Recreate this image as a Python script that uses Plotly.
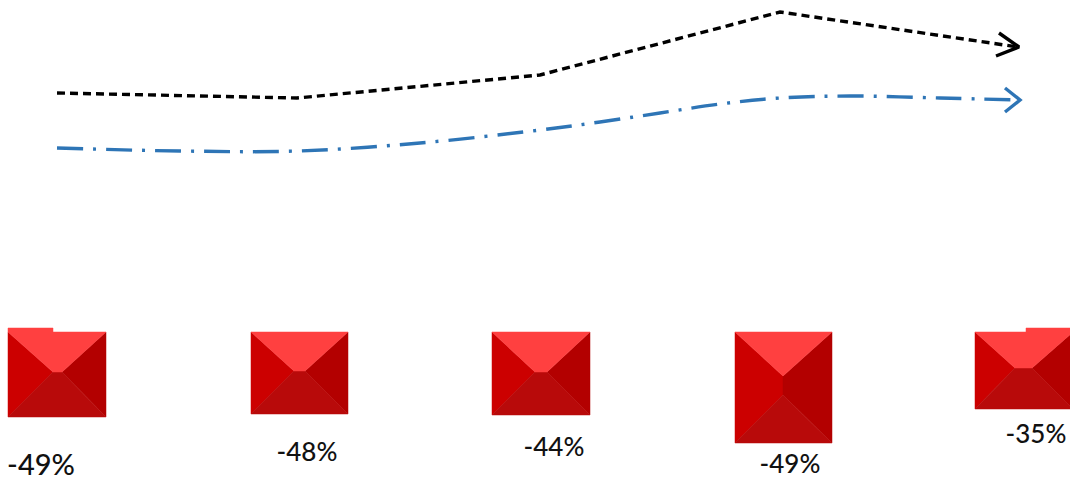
import plotly.graph_objects as go

# Trend lines
black_x = [57, 297, 540, 780, 1018]
black_y = [93, 98, 75, 12, 47]
blue_x = [57, 180, 297, 420, 540, 600, 660, 720, 780, 850, 940, 1018]
blue_y = [148, 151, 151, 143, 130, 122, 113, 104, 98, 96, 98, 100]

# Pyramid blocks
labels = ["-49%", "-48%", "-44%", "-49%", "-35%"]
box_left = [8, 251, 492, 735, 975]
box_right = [106, 348, 590, 832, 1073]
box_top = [332, 332, 332, 332, 332]
box_bottom = [417, 414, 415, 443, 409]
apex_left = [53, 294, 535, 783, 1015]
apex_right = [62, 305, 547, 783, 1032]
apex_top = [372, 371, 372, 376, 368]
apex_bottom = [372, 371, 372, 395, 368]
notch_left = [8, None, None, None, 1026]
notch_right = [53, None, None, None, 1073]
notch_top = [328, None, None, None, 328]

label_x = [41, 307, 554, 790, 1036]
label_y = [468, 454, 449, 466, 436]
label_size = [29, 26, 26, 26, 26]

TOP, LEFT, RIGHT, BOTTOM = "#FF4040", "#CC0000", "#B30000", "#B80A0A"

fig = go.Figure()


def face(xs, ys, color):
    fig.add_trace(go.Scatter(x=xs + xs[:1], y=ys + ys[:1], mode="lines", fill="toself",
                             fillcolor=color, line=dict(color=color, width=0.5),
                             hoverinfo="skip", showlegend=False))


for i in range(len(labels)):
    l, r, t, b = box_left[i], box_right[i], box_top[i], box_bottom[i]
    al, ar, at, ab = apex_left[i], apex_right[i], apex_top[i], apex_bottom[i]
    face([l, al, al, l], [t, at, ab, b], LEFT)
    face([r, ar, ar, r], [t, at, ab, b], RIGHT)
    face([l, al, ar, r], [b, ab, ab, b], BOTTOM)
    if notch_left[i] is None:
        face([l, al, ar, r], [t, at, at, t], TOP)
    else:
        nl, nr, nt = notch_left[i], notch_right[i], notch_top[i]
        if nl == l:
            face([l, nr, nr, r, ar, al, l], [nt, nt, t, t, at, at, t], TOP)
        else:
            face([l, nl, nl, nr, r, ar, al], [t, t, nt, nt, t, at, at], TOP)

fig.add_trace(go.Scatter(x=black_x, y=black_y, mode="lines", hoverinfo="skip", showlegend=False,
                         line=dict(color="#000000", width=3.4, dash="8px,5px")))
fig.add_trace(go.Scatter(x=[black_x[-1] - 19, black_x[-1] + 1, black_x[-1] - 22],
                         y=[black_y[-1] - 14, black_y[-1], black_y[-1] + 9], mode="lines",
                         hoverinfo="skip", showlegend=False,
                         line=dict(color="#000000", width=3.4)))
fig.add_trace(go.Scatter(x=blue_x, y=blue_y, mode="lines", hoverinfo="skip", showlegend=False,
                         line=dict(color="#2E75B6", width=3.4, shape="spline", smoothing=1,
                                   dash="26px,10px,3px,10px")))
fig.add_trace(go.Scatter(x=[blue_x[-1] - 13, blue_x[-1] + 2, blue_x[-1] - 13],
                         y=[blue_y[-1] - 12, blue_y[-1], blue_y[-1] + 12], mode="lines",
                         hoverinfo="skip", showlegend=False,
                         line=dict(color="#2E75B6", width=3.4)))
fig.add_trace(go.Scatter(x=label_x, y=label_y, mode="text", text=labels, hoverinfo="skip",
                         showlegend=False, cliponaxis=False,
                         textfont=dict(family="Lato", size=label_size, color="#111111", weight=500)))

fig.update_layout(width=1070, height=477, margin=dict(l=0, r=0, t=0, b=0),
                  paper_bgcolor="white", plot_bgcolor="white",
                  xaxis=dict(range=[0, 1070], visible=False),
                  yaxis=dict(range=[477, 0], visible=False))
fig.write_html("out.html", post_script="document.body.style.margin='0';", config={"displayModeBar": False})
